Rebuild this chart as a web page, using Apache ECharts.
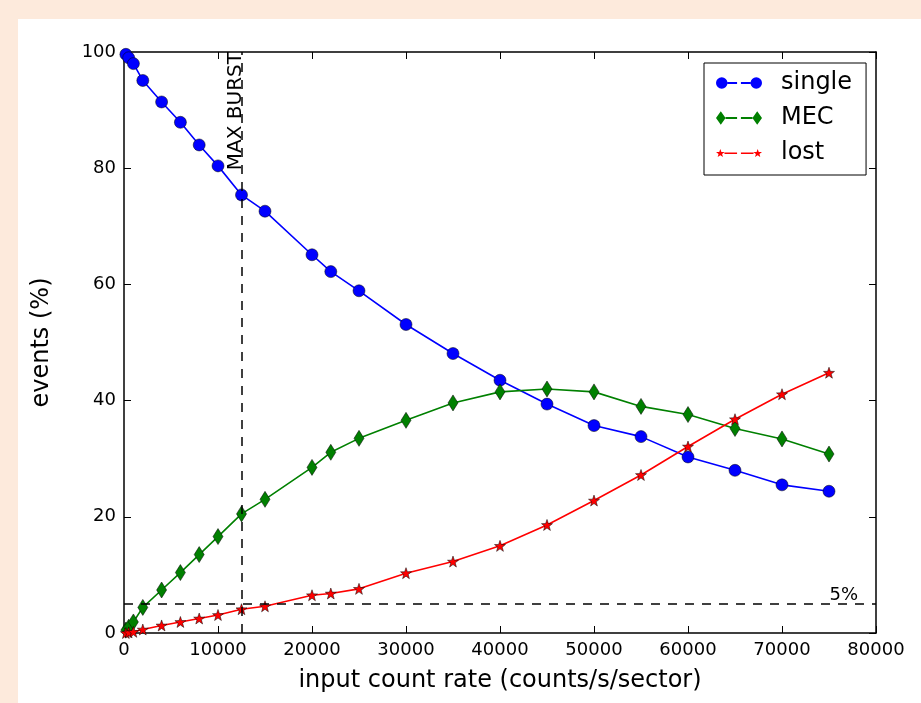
<!DOCTYPE html>
<html><head><meta charset="utf-8">
<script src="https://cdn.jsdelivr.net/npm/echarts@6/dist/echarts.min.js"></script>
<style>
html,body{margin:0;padding:0;background:#fdeadc;width:921px;height:703px;overflow:hidden}
#frame{position:absolute;left:18px;top:19px;width:903px;height:684px;background:#ffffff}
#chart{width:903px;height:684px}
</style></head><body>
<div id="frame"><div id="chart"></div></div>
<script>
// ---- data ----
const inputRate = [200, 500, 1000, 2000, 4000, 6000, 8000, 10000, 12500, 15000, 20000, 22000, 25000, 30000, 35000, 40000, 45000, 50000, 55000, 60000, 65000, 70000, 75000];
const singlePct = [99.6, 99.0, 98.0, 95.1, 91.4, 87.9, 84.0, 80.4, 75.4, 72.6, 65.1, 62.2, 58.9, 53.1, 48.1, 43.5, 39.4, 35.7, 33.8, 30.3, 28.0, 25.5, 24.4];
const mecPct    = [0.5, 1.0, 1.9, 4.4, 7.4, 10.4, 13.5, 16.6, 20.5, 23.0, 28.5, 31.1, 33.5, 36.6, 39.6, 41.5, 42.0, 41.5, 39.0, 37.6, 35.2, 33.4, 30.8];
const lostPct   = [0.0, 0.1, 0.2, 0.6, 1.3, 1.9, 2.5, 3.1, 4.1, 4.6, 6.5, 6.8, 7.6, 10.3, 12.3, 15.0, 18.6, 22.8, 27.2, 32.1, 36.8, 41.1, 44.8];
const seriesNames = ['single', 'MEC', 'lost'];
const xTicks = {min: 0, max: 80000, interval: 10000};
const yTicks = {min: 0, max: 100, interval: 20};
const maxBurstRate = 12500;
const lostThreshold = 5;
const xTitle = 'input count rate (counts/s/sector)';
const yTitle = 'events (%)';

const FONT = 'DejaVu Sans';
const pairs = (ys) => inputRate.map((x, i) => [x, ys[i]]);

function starPts(cx, cy, R, r) {
  let s = '';
  for (let k = 0; k < 10; k++) {
    const ang = (-90 + k * 36) * Math.PI / 180;
    const rad = k % 2 === 0 ? R : r;
    s += (k === 0 ? 'M' : 'L') + (cx + rad * Math.cos(ang)).toFixed(2) + ',' + (cy + rad * Math.sin(ang)).toFixed(2);
  }
  return s + 'Z';
}
const starSymbol = 'path://' + starPts(50, 50, 50, 20);
const legSingle = 'path://M0,6a6,6 0 1,0 12,0a6,6 0 1,0 -12,0ZM12,5h10v2h-10ZM26,5h10v2h-10ZM36,6a6,6 0 1,0 12,0a6,6 0 1,0 -12,0Z';
const legMEC = 'path://M5,0L10,7L5,14L0,7ZM10,6h12v2h-12ZM26,6h12v2h-12ZM43,0L48,7L43,14L38,7Z';
const legLost = 'path://' + starPts(4.7, 4.7, 4.7, 1.9) + 'M9,3.7h13v1.6h-13ZM26,3.7h13v1.6h-13Z' + starPts(43.3, 4.7, 4.7, 1.9);

const chart = echarts.init(document.getElementById('chart'), null, {renderer: 'canvas'});
const axisBase = {
  type: 'value', min: xTicks.min, max: xTicks.max, interval: xTicks.interval,
  splitLine: {show: false},
  axisLine: {show: true, onZero: false, lineStyle: {color: '#000', width: 1.5}},
  axisTick: {show: true, inside: true, length: 7, lineStyle: {color: '#000', width: 1}}
};
const option = {
  animation: false,
  textStyle: {fontFamily: FONT},
  grid: {left: 106, top: 33, right: 45, bottom: 70, containLabel: false},
  legend: {
    orient: 'vertical', left: 686, top: 44,
    backgroundColor: '#fff', borderColor: '#000', borderWidth: 1, borderRadius: 0,
    padding: [8, 14, 10, 12], itemGap: 11, itemWidth: 46, itemHeight: 14,
    itemStyle: {borderWidth: 0},
    textStyle: {fontFamily: FONT, fontSize: 24, color: '#000', lineHeight: 24, padding: [0, 0, 0, 14]},
    data: [
      {name: seriesNames[0], icon: legSingle},
      {name: seriesNames[1], icon: legMEC},
      {name: seriesNames[2], icon: legLost}
    ]
  },
  xAxis: [
    Object.assign({}, axisBase, {
      position: 'bottom', name: xTitle, nameLocation: 'middle', nameGap: 36,
      nameTextStyle: {fontFamily: FONT, fontSize: 24, color: '#000'},
      axisLabel: {fontFamily: FONT, fontSize: 18, color: '#000', margin: 8, formatter: (v) => String(v)}
    }),
    Object.assign({}, axisBase, {position: 'top', axisLabel: {show: false}})
  ],
  yAxis: [
    Object.assign({}, axisBase, {
      min: yTicks.min, max: yTicks.max, interval: yTicks.interval,
      position: 'left', name: yTitle, nameLocation: 'middle', nameGap: 70,
      nameTextStyle: {fontFamily: FONT, fontSize: 24, color: '#000'},
      axisLabel: {fontFamily: FONT, fontSize: 18, color: '#000', margin: 8, formatter: (v) => String(v)}
    }),
    Object.assign({}, axisBase, {min: yTicks.min, max: yTicks.max, interval: yTicks.interval, position: 'right', axisLabel: {show: false}})
  ],
  series: [
    {
      name: seriesNames[0], type: 'line', data: pairs(singlePct),
      symbol: 'circle', symbolSize: 12, showAllSymbol: true,
      lineStyle: {color: '#0000ff', width: 1.6},
      itemStyle: {color: '#0000ff', borderColor: '#000', borderWidth: 0.5},
      markLine: {
        silent: true, symbol: 'none', animation: false,
        lineStyle: {color: '#000', type: [9, 8], width: 1.5},
        data: [
          [{coord: [maxBurstRate, yTicks.min], label: {show: true, formatter: 'MAX BURST', position: 'insideEndTop', distance: [0, -4], fontFamily: FONT, fontSize: 20, color: '#000'}},
           {coord: [maxBurstRate, yTicks.max]}],
          [{coord: [xTicks.min, lostThreshold], label: {show: true, formatter: '5%', position: 'insideEndTop', distance: [18, 0], fontFamily: FONT, fontSize: 18, color: '#000'}},
           {coord: [xTicks.max, lostThreshold]}]
        ]
      }
    },
    {
      name: seriesNames[1], type: 'line', data: pairs(mecPct),
      symbol: 'diamond', symbolSize: [10, 16], showAllSymbol: true,
      lineStyle: {color: '#008000', width: 1.6},
      itemStyle: {color: '#008000', borderColor: '#000', borderWidth: 0.5}
    },
    {
      name: seriesNames[2], type: 'line', data: pairs(lostPct),
      symbol: starSymbol, symbolSize: 11, showAllSymbol: true,
      lineStyle: {color: '#ff0000', width: 1.6},
      itemStyle: {color: '#ff0000', borderColor: '#000', borderWidth: 0.5}
    }
  ]
};
chart.setOption(option);
</script>
</body></html>
